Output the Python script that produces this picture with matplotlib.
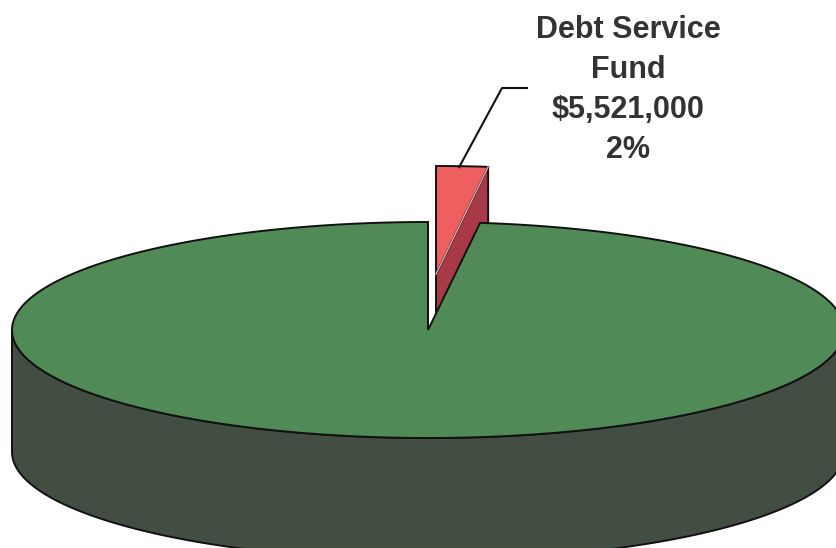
import numpy as np
import matplotlib
matplotlib.use("Agg")
import matplotlib.pyplot as plt
from matplotlib.patches import Polygon

# fund amounts
labels = ["Debt Service\nFund", "Other Funds"]
amounts = [5521000, 270500000]
top_colors = ["#ee6060", "#508a56"]
side_colors = ["#a83a48", "#434e42"]

# 3d pie geometry in pixel space
cx, cy = 428, 330
a, b = 416, 108
depth = 122
explode_off = (8, -56)

def rim(theta, dx=0, dy=0, drop=0):
    t = np.radians(theta)
    return np.column_stack([cx + dx + a * np.cos(t), cy + dy - b * np.sin(t) + drop])

fig = plt.figure(figsize=(8.37, 5.48), dpi=100)
ax = fig.add_axes([0, 0, 1, 1])
ax.set_xlim(0, 837)
ax.set_ylim(548, 0)
ax.axis("off")

total = sum(amounts)
fracs = [v / total for v in amounts]
span_debt = 360 * fracs[0]
start_debt = 90 - span_debt
ec = "#111111"

# exploded debt service slice
dx, dy = explode_off
v = np.array([cx + dx, cy + dy])
p0 = rim(start_debt, dx, dy)[0]
side = np.array([v, p0, p0 + [0, depth], v + [0, depth]])
ax.add_patch(Polygon(side, closed=True, fc=side_colors[0], ec=ec, lw=1.4, zorder=1))
arc = rim(np.linspace(start_debt, 90, 30), dx, dy)
ax.add_patch(Polygon(np.vstack([v, arc]), closed=True, fc=top_colors[0], ec=ec, lw=1.4, zorder=2))
ax.plot([v[0], p0[0]], [v[1], p0[1]], color="#e9a8a8", lw=1.0, zorder=3)

# main slice: front wall then top
th = np.linspace(180, 360, 200)
wall = np.vstack([rim(th), rim(th[::-1], drop=depth)])
ax.add_patch(Polygon(wall, closed=True, fc=side_colors[1], ec=ec, lw=1.4, zorder=4))
th = np.linspace(90, 90 + 360 * fracs[1], 400)
top = np.vstack([[cx, cy], rim(th)])
ax.add_patch(Polygon(top, closed=True, fc=top_colors[1], ec=ec, lw=1.4, zorder=5))

# leader line and label
anchor = rim(90 - span_debt / 2, dx, dy)[0]
ax.plot([anchor[0] - 3, 502, 527], [anchor[1] + 1, 88, 88], color=ec, lw=1.5, zorder=6)
label = "{}\n${:,}\n{:.0f}%".format(labels[0], amounts[0], fracs[0] * 100)
ax.text(628, 90, label, ha="center", va="center", fontsize=22,
        fontweight="bold", family="Liberation Sans", color="#333333",
        linespacing=1.43, zorder=7)

fig.savefig("out.png", dpi=100)
